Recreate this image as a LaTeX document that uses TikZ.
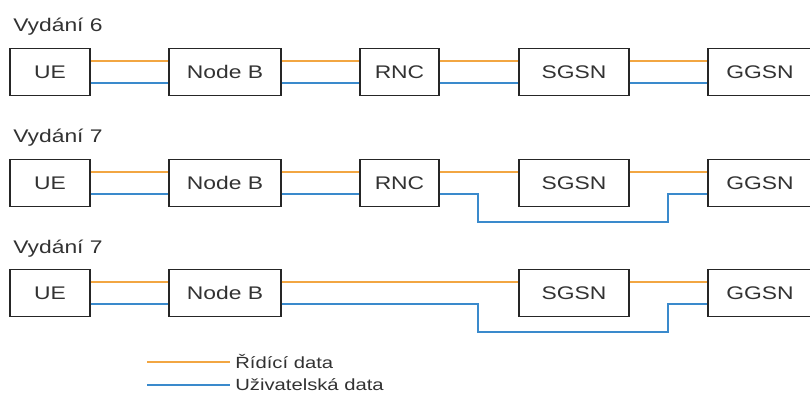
\documentclass[tikz,border=0pt]{standalone}
\usepackage{fontspec}
\setmainfont{Liberation Sans}[FakeStretch=1.25]
\usepackage{tikz}
\usetikzlibrary{positioning}
\definecolor{ctrlorange}{RGB}{242,166,66}
\definecolor{userblue}{RGB}{58,138,204}
\definecolor{textgray}{RGB}{50,50,50}

\begin{document}
\begin{tikzpicture}[x=0.025cm,y=-0.025cm]

                \useasboundingbox (0,0) rectangle (810,398);
                \clip (0,0) rectangle (810,398);

                \tikzset{
                % network elements, control plane and user plane lines
                box/.style={draw=black!85, line width=1pt, minimum height=1.175cm, inner sep=0,
                    text=textgray, font=\fontsize{13}{15}\selectfont},
                reltitle/.style={anchor=base west, inner sep=0, text=textgray, font=\fontsize{13}{15}\selectfont},
                legend/.style={text=textgray, font=\fontsize{11.5}{13}\selectfont},
                ctrl/.style={draw=ctrlorange, line width=1pt},
                user/.style={draw=userblue, line width=1pt},
                up/.style={yshift=2.75mm},
                down/.style={yshift=-2.75mm}
                }

                % Release 6
                \node[reltitle] (rel6) at (13,32) {Vydání 6};
                \node[box, minimum width=2cm] (ue1) at (50,72) {UE};
                \node[box, minimum width=2.8cm] (nb1) at (225,72) {Node B};
                \node[box, minimum width=1.975cm] (rnc1) at (399.5,72) {RNC};
                \node[box, minimum width=2.75cm] (sgsn1) at (574,72) {SGSN};
                \node[box, minimum width=2.6cm] (ggsn1) at (760,72) {GGSN};

                \draw[ctrl] ([up]ue1.east) -- ([up]nb1.west);
                \draw[user] ([down]ue1.east) -- ([down]nb1.west);
                \draw[ctrl] ([up]nb1.east) -- ([up]rnc1.west);
                \draw[user] ([down]nb1.east) -- ([down]rnc1.west);
                \draw[ctrl] ([up]rnc1.east) -- ([up]sgsn1.west);
                \draw[user] ([down]rnc1.east) -- ([down]sgsn1.west);
                \draw[ctrl] ([up]sgsn1.east) -- ([up]ggsn1.west);
                \draw[user] ([down]sgsn1.east) -- ([down]ggsn1.west);

                % Release 7, direct tunnel from the RNC
                \node[reltitle] (rel7a) at (13,143) {Vydání 7};
                \node[box, minimum width=2cm] (ue2) at (50,183) {UE};
                \node[box, minimum width=2.8cm] (nb2) at (225,183) {Node B};
                \node[box, minimum width=1.975cm] (rnc2) at (399.5,183) {RNC};
                \node[box, minimum width=2.75cm] (sgsn2) at (574,183) {SGSN};
                \node[box, minimum width=2.6cm] (ggsn2) at (760,183) {GGSN};

                \draw[ctrl] ([up]ue2.east) -- ([up]nb2.west);
                \draw[user] ([down]ue2.east) -- ([down]nb2.west);
                \draw[ctrl] ([up]nb2.east) -- ([up]rnc2.west);
                \draw[user] ([down]nb2.east) -- ([down]rnc2.west);
                \draw[ctrl] ([up]rnc2.east) -- ([up]sgsn2.west);
                \draw[ctrl] ([up]sgsn2.east) -- ([up]ggsn2.west);
                \draw[user] ([down]rnc2.east) -| (478,222) -- (668,222) |- ([down]ggsn2.west);

                % Release 7, direct tunnel from the Node B
                \node[reltitle] (rel7b) at (13,254) {Vydání 7};
                \node[box, minimum width=2cm] (ue3) at (50,293) {UE};
                \node[box, minimum width=2.8cm] (nb3) at (225,293) {Node B};
                \node[box, minimum width=2.75cm] (sgsn3) at (574,293) {SGSN};
                \node[box, minimum width=2.6cm] (ggsn3) at (760,293) {GGSN};

                \draw[ctrl] ([up]ue3.east) -- ([up]nb3.west);
                \draw[user] ([down]ue3.east) -- ([down]nb3.west);
                \draw[ctrl] ([up]nb3.east) -- ([up]sgsn3.west);
                \draw[ctrl] ([up]sgsn3.east) -- ([up]ggsn3.west);
                \draw[user] ([down]nb3.east) -| (478,332) -- (668,332) |- ([down]ggsn3.west);

                % legend
                \coordinate (ctrlstart) at (147,362);
                \coordinate (userstart) at (147,385);
                \draw[ctrl] (ctrlstart) -- ++(83,0) node[legend, right] (ctrltext) {Řídící data};
                \draw[user] (userstart) -- ++(83,0) node[legend, right] (usertext) {Uživatelská data};
\end{tikzpicture}
\end{document}
